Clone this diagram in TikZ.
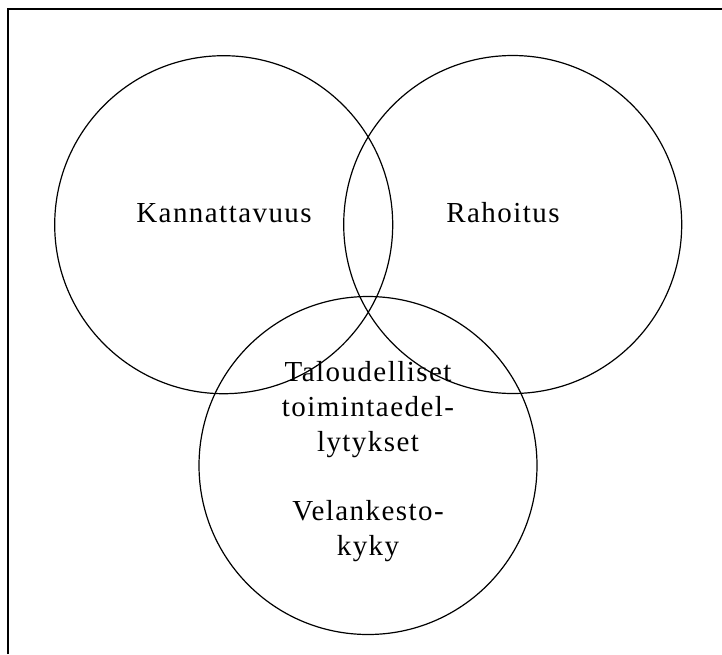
\documentclass[tikz,border=0pt]{standalone}
\usepackage{fontspec}
\setmainfont{Liberation Serif}[LetterSpace=5]
\begin{document}
\begin{tikzpicture}[x=1pt,y=-1pt,
  ring/.style={draw, line width=1.2pt, circle, minimum size=338pt, inner sep=0pt},
  lbl/.style={font=\fontsize{29}{35}\selectfont, align=center, inner sep=0pt},
  frame/.style={line width=2pt}]
\useasboundingbox (0,0) rectangle (722,654);
\draw[frame] (8,654) -- (8,9) -- (722,9);
\node[ring] (left) at (223.7,224.7) {};
\node[ring] (right) at (512.7,224.5) {};
\node[ring] (bottom) at (368,465.5) {};
\node[lbl] (kan) at (224,213) {Kannattavuus};
\node[lbl] (rah) at (503,213) {Rahoitus};
\node[lbl] (tal) at (368,410) {Taloudelliset\\toimintaedel-\\lytykset};
\node[lbl] (vel) at (368,531) {Velankesto-\\kyky};
\end{tikzpicture}
\end{document}
